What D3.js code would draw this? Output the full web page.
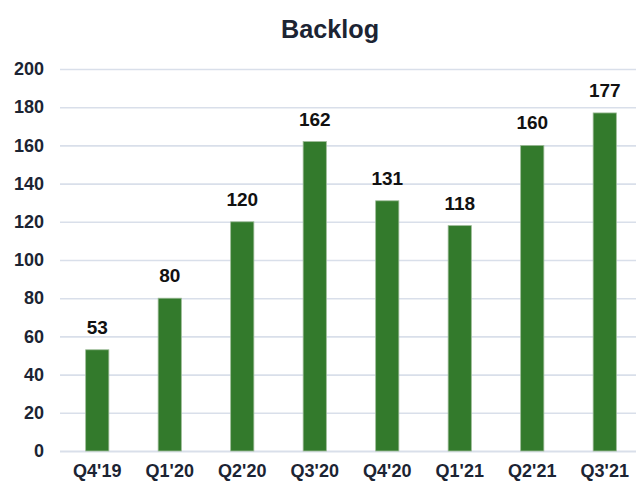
<!DOCTYPE html>
<html>
<head>
<meta charset="utf-8">
<script src="https://cdn.jsdelivr.net/npm/d3@7"></script>
<style>
  body { margin: 0; background: #fff; }
  svg { display: block; font-family: "Liberation Sans", Arial, sans-serif; }
</style>
</head>
<body>
<svg id="chart" width="636" height="487"></svg>
<script>
const quarters = ["Q4'19", "Q1'20", "Q2'20", "Q3'20", "Q4'20", "Q1'21", "Q2'21", "Q3'21"];
const backlog = [53, 80, 120, 162, 131, 118, 160, 177];
const yTicks = [0, 20, 40, 60, 80, 100, 120, 140, 160, 180, 200];

const svg = d3.select("#chart");

const x = d3.scaleBand()
    .domain(quarters)
    .range([61, 641])
    .paddingInner(0.68)
    .paddingOuter(0.34);

const y = d3.scaleLinear()
    .domain([0, 200])
    .range([451, 69]);

// title
svg.append("text")
    .attr("x", 330)
    .attr("y", 38)
    .attr("text-anchor", "middle")
    .attr("font-size", 26)
    .attr("font-weight", "bold")
    .attr("fill", "#1c2433")
    .attr("transform", "translate(330,0) scale(0.97,1) translate(-330,0)")
    .text("Backlog");

// gridlines + y labels
const yAxis = svg.append("g")
    .attr("transform", "translate(60,0)")
    .call(d3.axisLeft(y).tickValues(yTicks).tickSize(-600).tickPadding(16).tickFormat(d3.format("d")));
yAxis.select(".domain").remove();
yAxis.selectAll(".tick line")
    .attr("stroke", "#d9dfea")
    .attr("stroke-width", d => d === 0 ? 2.2 : 1.6);
yAxis.selectAll(".tick text")
    .attr("font-size", 18)
    .attr("font-weight", "bold")
    .attr("fill", "#1c2433")
    .attr("font-family", "Liberation Sans, Arial, sans-serif");

// bars
svg.append("g")
    .selectAll("rect")
    .data(backlog)
    .join("rect")
    .attr("x", (d, i) => x(quarters[i]))
    .attr("width", x.bandwidth())
    .attr("y", d => y(d))
    .attr("height", d => y(0) - y(d))
    .attr("fill", "#337a2c")
    .attr("stroke", "#9dbb97")
    .attr("stroke-width", 0.8);

// value labels
svg.append("g")
    .selectAll("text")
    .data(backlog)
    .join("text")
    .attr("x", (d, i) => x(quarters[i]) + x.bandwidth() / 2)
    .attr("y", d => y(d) - 16)
    .attr("text-anchor", "middle")
    .attr("font-size", 19)
    .attr("font-weight", "bold")
    .attr("fill", "#111")
    .text(d => d);

// x labels
const xAxis = svg.append("g")
    .attr("transform", "translate(0,451)")
    .call(d3.axisBottom(x).tickSize(0).tickPadding(13));
xAxis.select(".domain").remove();
xAxis.selectAll(".tick text")
    .attr("font-size", 18)
    .attr("font-weight", "bold")
    .attr("fill", "#1c2433")
    .attr("font-family", "Liberation Sans, Arial, sans-serif");
</script>
</body>
</html>
